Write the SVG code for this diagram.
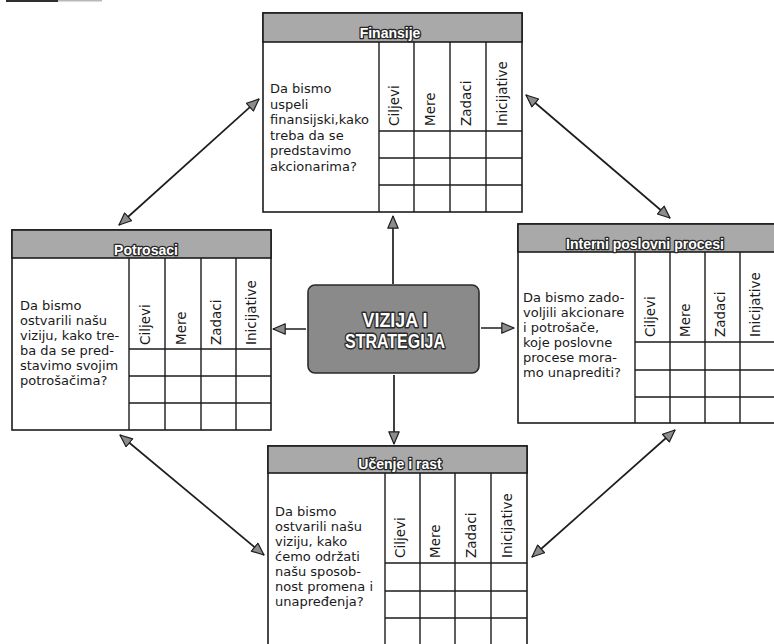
<svg xmlns="http://www.w3.org/2000/svg" width="774" height="644" viewBox="0 0 774 644">
  <defs>
    <style>
      .frame { fill: #ffffff; stroke: #1c1c1c; stroke-width: 1.6; }
      .hdr { fill: #a9a9a9; stroke: #1c1c1c; stroke-width: 1.6; }
      .grid { fill: none; stroke: #1c1c1c; stroke-width: 1.4; }
      .htxt { font-family: "Liberation Sans", Arial, sans-serif; font-weight: bold; font-size: 14px; fill: #ffffff; stroke: #262626; stroke-width: 2.6; paint-order: stroke fill; stroke-linejoin: round; text-anchor: middle; }
      .body { font-family: "DejaVu Sans", "Liberation Sans", sans-serif; font-size: 13px; fill: #1a1a1a; }
      .col { font-family: "DejaVu Sans", "Liberation Sans", sans-serif; font-size: 13.5px; fill: #1a1a1a; }
      .core { fill: #8a8a8a; stroke: #2a2a2a; stroke-width: 1.6; }
      .ctxt { font-family: "Liberation Sans", Arial, sans-serif; font-weight: bold; font-size: 19.5px; fill: #ffffff; stroke: #2a2a2a; stroke-width: 3; paint-order: stroke fill; stroke-linejoin: round; text-anchor: middle; }
      .conn { fill: none; stroke: #1e1e1e; stroke-width: 1.7; }
    </style>
    <marker id="head" viewBox="0 0 14 12" refX="13" refY="6" markerWidth="14" markerHeight="12" markerUnits="userSpaceOnUse" orient="auto-start-reverse">
      <path d="M0.8,0.8 L13,6 L0.8,11.2 Z" fill="#8c8c8c" stroke="#1e1e1e" stroke-width="1.2" stroke-linejoin="round"/>
    </marker>
  </defs>

  <!-- edge mark along the top border -->
  <rect x="6" y="0" width="52" height="2" fill="#2e2e2e"/>
  <rect x="58" y="0" width="44" height="1.5" fill="#b8b8b8"/>

  <!-- connectors -->
  <g id="connectors">
    <line class="conn" x1="393" y1="284" x2="393" y2="216" marker-end="url(#head)"/>
    <line class="conn" x1="306" y1="329" x2="273" y2="329" marker-end="url(#head)"/>
    <line class="conn" x1="481" y1="328" x2="514" y2="328" marker-end="url(#head)"/>
    <line class="conn" x1="394" y1="375" x2="394" y2="444" marker-end="url(#head)"/>
    <line class="conn" x1="119" y1="225" x2="259" y2="99" marker-start="url(#head)" marker-end="url(#head)"/>
    <line class="conn" x1="526" y1="95" x2="670" y2="218" marker-start="url(#head)" marker-end="url(#head)"/>
    <line class="conn" x1="120" y1="435" x2="264" y2="555" marker-start="url(#head)" marker-end="url(#head)"/>
    <line class="conn" x1="675" y1="430" x2="532" y2="557" marker-start="url(#head)" marker-end="url(#head)"/>
  </g>

  <!-- centre node -->
  <g id="vizija">
    <rect class="core" x="308" y="285" width="171" height="88" rx="7" ry="7"/>
    <text class="ctxt" x="395" y="327" textLength="65" lengthAdjust="spacingAndGlyphs">VIZIJA I</text>
    <text class="ctxt" x="395" y="348" textLength="100" lengthAdjust="spacingAndGlyphs">STRATEGIJA</text>
  </g>

  <!-- Finansije -->
  <g id="finansije">
    <rect class="frame" x="263" y="13" width="259" height="199"/>
    <rect class="hdr" x="263" y="13" width="259" height="29"/>
    <path class="grid" d="M379 42V212M414 42V212M450 42V212M486 42V212M379 131H522M379 158H522M379 185H522"/>
    <text class="htxt" x="390" y="38">Finansije</text>
    <text class="body">
      <tspan x="270" y="93">Da bismo</tspan>
      <tspan x="270" y="108.5">uspeli</tspan>
      <tspan x="270" y="124">finansijski,kako</tspan>
      <tspan x="270" y="139.5">treba da se</tspan>
      <tspan x="270" y="155">predstavimo</tspan>
      <tspan x="270" y="170.5">akcionarima?</tspan>
    </text>
    <text class="col" transform="translate(399,126) rotate(-90)">Ciljevi</text>
    <text class="col" transform="translate(434.5,126) rotate(-90)">Mere</text>
    <text class="col" transform="translate(470.5,126) rotate(-90)">Zadaci</text>
    <text class="col" transform="translate(506.5,126) rotate(-90)">Inicijative</text>
  </g>

  <!-- Potrosaci -->
  <g id="potrosaci">
    <rect class="frame" x="12" y="230" width="259" height="200"/>
    <rect class="hdr" x="12" y="230" width="259" height="28"/>
    <path class="grid" d="M129 258V430M165 258V430M201 258V430M236 258V430M129 349H271M129 376H271M129 403H271"/>
    <text class="htxt" x="146" y="255">Potrosaci</text>
    <text class="body">
      <tspan x="20" y="310">Da bismo</tspan>
      <tspan x="20" y="325">ostvarili našu</tspan>
      <tspan x="20" y="340">viziju, kako tre-</tspan>
      <tspan x="20" y="355">ba da se pred-</tspan>
      <tspan x="20" y="370">stavimo svojim</tspan>
      <tspan x="20" y="385">potrošačima?</tspan>
    </text>
    <text class="col" transform="translate(149.5,345) rotate(-90)">Ciljevi</text>
    <text class="col" transform="translate(185.5,345) rotate(-90)">Mere</text>
    <text class="col" transform="translate(221,345) rotate(-90)">Zadaci</text>
    <text class="col" transform="translate(256,345) rotate(-90)">Inicijative</text>
  </g>

  <!-- Interni poslovni procesi -->
  <g id="interni">
    <rect class="frame" x="518" y="224" width="260" height="199"/>
    <rect class="hdr" x="518" y="224" width="260" height="28"/>
    <path class="grid" d="M635 252V423M670 252V423M705 252V423M740 252V423M635 342H778M635 370H778M635 397H778"/>
    <text class="htxt" x="645" y="249">Interni poslovni procesi</text>
    <text class="body">
      <tspan x="523" y="302">Da bismo zado-</tspan>
      <tspan x="523" y="317">voljili akcionare</tspan>
      <tspan x="523" y="332">i potrošače,</tspan>
      <tspan x="523" y="347">koje poslovne</tspan>
      <tspan x="523" y="362">procese mora-</tspan>
      <tspan x="523" y="377">mo unaprediti?</tspan>
    </text>
    <text class="col" transform="translate(655,337) rotate(-90)">Ciljevi</text>
    <text class="col" transform="translate(690,337) rotate(-90)">Mere</text>
    <text class="col" transform="translate(725,337) rotate(-90)">Zadaci</text>
    <text class="col" transform="translate(760,337) rotate(-90)">Inicijative</text>
  </g>

  <!-- Ucenje i rast -->
  <g id="ucenje">
    <rect class="frame" x="268" y="446" width="259" height="200"/>
    <rect class="hdr" x="268" y="446" width="259" height="27"/>
    <path class="grid" d="M385 473V646M420 473V646M455 473V646M491 473V646M385 563H527M385 591H527M385 618H527"/>
    <text class="htxt" x="400" y="469">Učenje i rast</text>
    <text class="body">
      <tspan x="275" y="516">Da bismo</tspan>
      <tspan x="275" y="531">ostvarili našu</tspan>
      <tspan x="275" y="546">viziju, kako</tspan>
      <tspan x="275" y="561">ćemo održati</tspan>
      <tspan x="275" y="576">našu sposob-</tspan>
      <tspan x="275" y="591">nost promena i</tspan>
      <tspan x="275" y="606">unapređenja?</tspan>
    </text>
    <text class="col" transform="translate(405,558) rotate(-90)">Ciljevi</text>
    <text class="col" transform="translate(440,558) rotate(-90)">Mere</text>
    <text class="col" transform="translate(475.5,558) rotate(-90)">Zadaci</text>
    <text class="col" transform="translate(511.5,558) rotate(-90)">Inicijative</text>
  </g>
</svg>
